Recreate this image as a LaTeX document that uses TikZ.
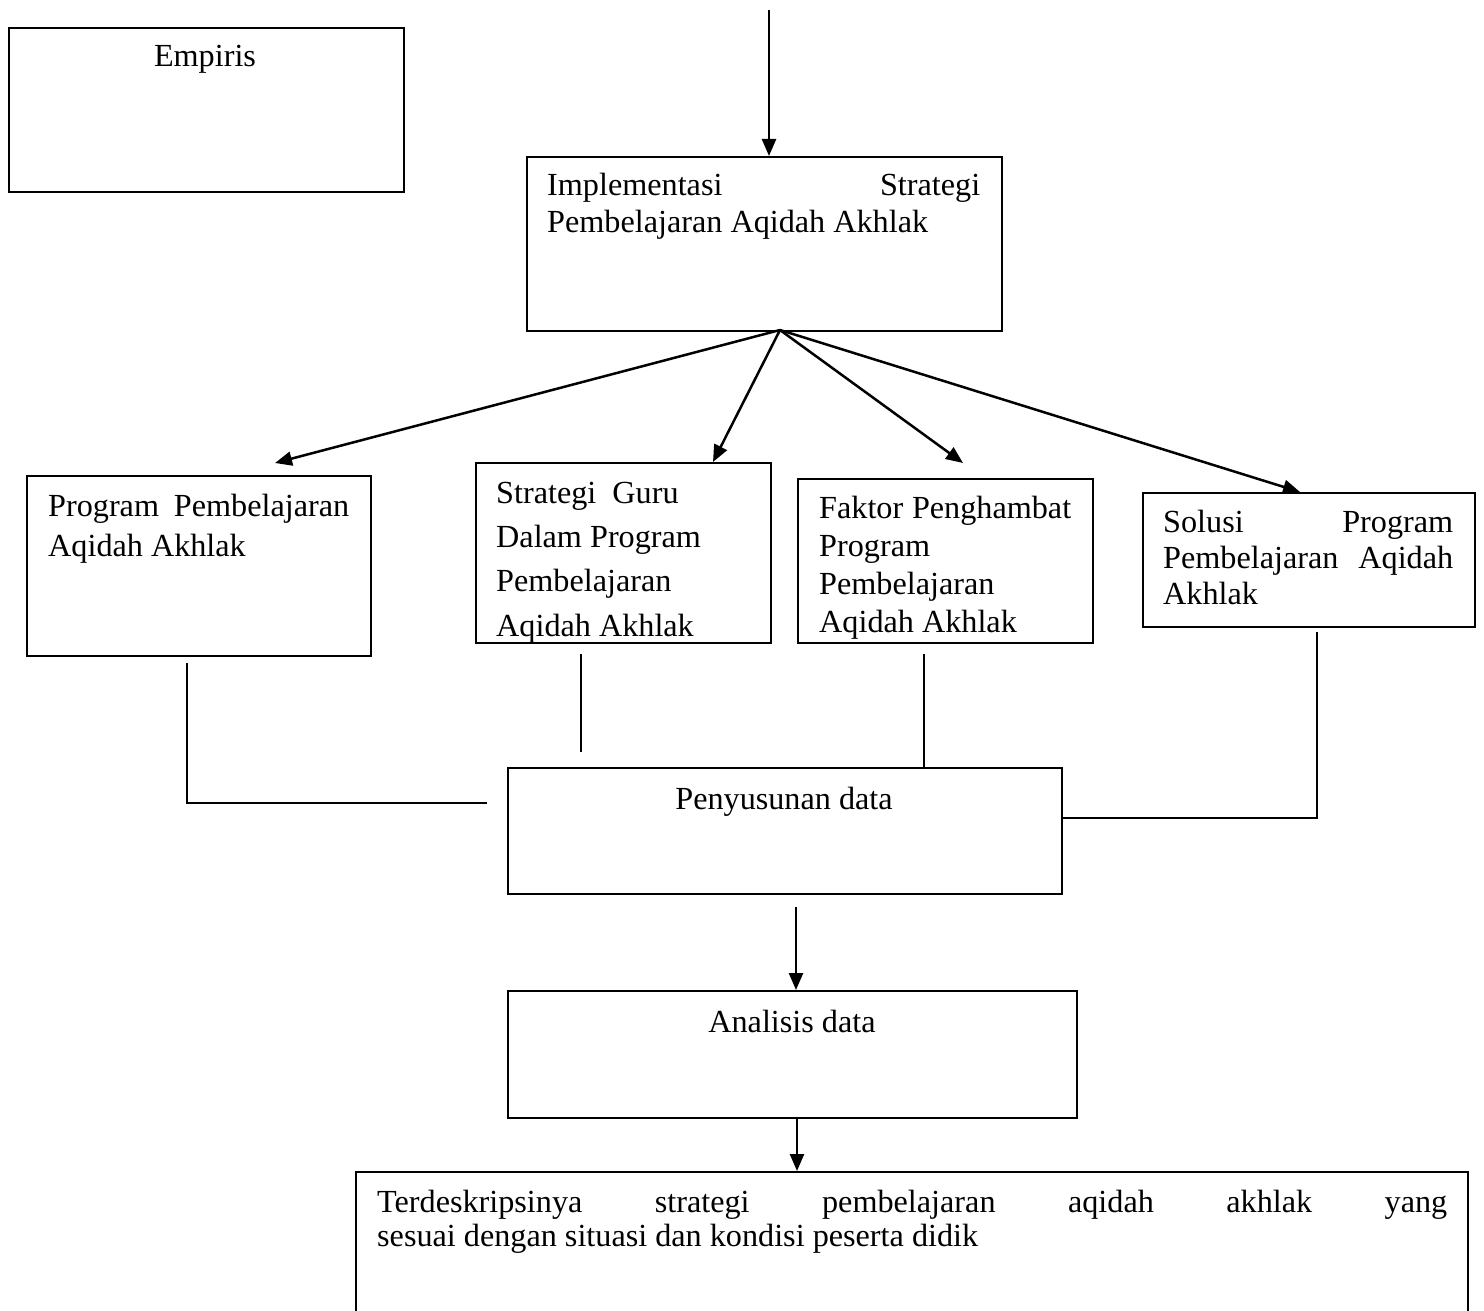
\documentclass[tikz,border=0pt]{standalone}
\usepackage{fontspec}
\setmainfont{Liberation Serif}
\usetikzlibrary{arrows.meta}
\newcommand\bigfs{\fontsize{32.2pt}{38pt}\selectfont}
\begin{document}
\begin{tikzpicture}[x=1pt,y=-1pt,
  box/.style={draw, line width=2pt, inner sep=0pt, anchor=north west},
  txt/.style={inner sep=0pt, anchor=base west, font=\bigfs},
  ctxt/.style={inner sep=0pt, anchor=base, font=\bigfs},
  arr/.style={line width=2.5pt, -{Triangle[length=17pt,width=14pt]}},
  ln/.style={line width=2pt}]
\useasboundingbox (0,0) rectangle (1484,1311);
\clip (0,0) rectangle (1484,1311);
% boxes
\node[box, minimum width=395pt, minimum height=164pt] (emp) at (8,27) {};
\node[box, minimum width=475pt, minimum height=174pt] (impl) at (526,156) {};
\node[box, minimum width=344pt, minimum height=180pt] (prog) at (26,475) {};
\node[box, minimum width=295pt, minimum height=180pt] (strat) at (475,462) {};
\node[box, minimum width=295pt, minimum height=164pt] (fakt) at (797,478) {};
\node[box, minimum width=332pt, minimum height=134pt] (sol) at (1142,492) {};
\node[box, minimum width=554pt, minimum height=126pt] (peny) at (507,767) {};
\node[box, minimum width=569pt, minimum height=127pt] (anal) at (507,990) {};
\node[box, minimum width=1112pt, minimum height=160pt] (terd) at (355,1171) {};
% texts
\node[ctxt] (tEmp) at (205,67) {Empiris};
\node[txt] (tImpA) at (547,196) {\makebox[433pt][s]{Implementasi Strategi}};
\node[txt] (tImpB) at (547,233) {Pembelajaran Aqidah Akhlak};
\node[txt] (tProA) at (48,516) {\makebox[301pt][s]{Program Pembelajaran}};
\node[txt] (tProB) at (48,556) {Aqidah Akhlak};
\begin{scope}
\clip (strat.south west) rectangle (strat.north east);
\node[txt] (tStrA) at (496,503) {Strategi~ Guru};
\node[txt] (tStrB) at (496,547) {Dalam Program};
\node[txt] (tStrC) at (496,591) {Pembelajaran};
\node[txt] (tStrD) at (496,636) {Aqidah Akhlak};
\end{scope}
\begin{scope}
\clip (fakt.south west) rectangle (fakt.north east);
\node[txt] (tFakA) at (819,518) {\makebox[252pt][s]{Faktor Penghambat}};
\node[txt] (tFakB) at (819,556) {Program};
\node[txt] (tFakC) at (819,594) {Pembelajaran};
\node[txt] (tFakD) at (819,632) {Aqidah Akhlak};
\end{scope}
\node[txt] (tSolA) at (1163,532) {\makebox[290pt][s]{Solusi Program}};
\node[txt] (tSolB) at (1163,568) {\makebox[290pt][s]{Pembelajaran Aqidah}};
\node[txt] (tSolC) at (1163,604) {Akhlak};
\node[ctxt] (tPen) at (784,809) {Penyusunan data};
\node[ctxt] (tAna) at (792,1032) {Analisis data};
\node[txt] (tTerA) at (377,1212) {\makebox[1070pt][s]{Terdeskripsinya strategi pembelajaran aqidah akhlak yang}};
\node[txt] (tTerB) at (377,1246) {sesuai dengan situasi dan kondisi peserta didik};
% connectors
\coordinate (top) at (769,10);
\draw[arr] (top) -- (top |- impl.north);
\coordinate (fan) at (780,330);
\coordinate (tp) at (275,463);
\coordinate (ts) at (713,462);
\coordinate (tf) at (963,463);
\coordinate (tso) at (1300,492);
\draw[arr] (fan) -- (tp);
\draw[arr] (fan) -- (ts);
\draw[arr] (fan) -- (tf);
\draw[arr] (fan) -- (tso);
\coordinate (p1) at (187,663);
\coordinate (p2) at (487,803);
\draw[ln] (p1) |- (p2);
\coordinate (s1) at (581,654);
\coordinate (s2) at (581,752);
\draw[ln] (s1) -- (s2);
\coordinate (f1) at (924,654);
\draw[ln] (f1) -- (f1 |- peny.north);
\coordinate (o1) at (1317,632);
\coordinate (o2) at (1061,818);
\draw[ln] (o1) |- (o2);
\coordinate (a1) at (796,907);
\draw[arr] (a1) -- (a1 |- anal.north);
\coordinate (b1) at (797,1117);
\draw[arr] (b1) -- (b1 |- terd.north);
\end{tikzpicture}
\end{document}
